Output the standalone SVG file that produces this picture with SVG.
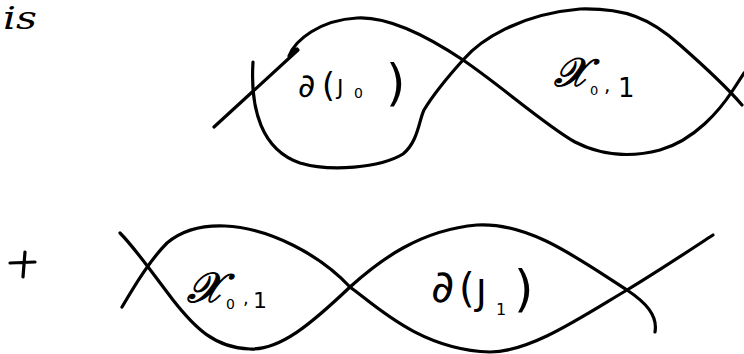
<svg xmlns="http://www.w3.org/2000/svg" width="744" height="354" viewBox="0 0 744 354">
<style>
.c{fill:none;stroke:#000;stroke-width:3.2;stroke-linecap:round;stroke-linejoin:round}
.t{font-family:"DejaVu Sans","Liberation Sans",sans-serif;font-style:normal;fill:#000}
.s{font-family:"DejaVu Serif","Liberation Serif",serif;font-style:italic;fill:#000}
.x{stroke:#000;stroke-width:1.2}
</style>
<rect width="744" height="354" fill="#fff"/>
<text class="s" x="3" y="29" font-size="32" textLength="34" lengthAdjust="spacingAndGlyphs">is</text>
<g id="curves">
<path class="c" d="M214,127 L298,50"/>
<path class="c" d="M253,62 C250,110 262,150 300,163 C330,172 380,168 403,154 C418,142 419,120 424,110 C430,100 445,80 463,60 C480,40 520,14 580,9 C625,8 650,18 680,45 C705,67 725,85 742,105"/>
<path class="c" d="M297,49 Q291,51 289,56 C295,40 320,20 357,18 C390,16 430,38 463,60 C500,85 545,125 575,142 C600,155 630,158 660,150 C695,140 720,110 733,90 L744,73"/>
<path class="c" d="M10,263 L35,262 M25,252 L23,277"/>
<path class="c" d="M120,233 C135,248 150,270 173,300 C195,328 215,348 250,349 C280,350 310,325 350,287 C380,260 420,230 477,225 C530,222 580,260 627,290 C645,302 658,315 655,332"/>
<path class="c" d="M122,307 C135,285 150,260 167,243 C180,232 200,225 225,226 C270,228 320,255 350,287 C375,305 420,350 490,352 C530,352 580,318 627,290 C660,270 690,250 713,235"/>
</g>
<g id="label-dJ0">
<text class="t" y="97"><tspan x="298" font-size="33">∂</tspan><tspan x="322" font-size="33">(</tspan><tspan x="337" font-size="22" y="95">J</tspan><tspan x="354" font-size="14" y="98">0</tspan><tspan x="386" font-size="50" y="100">)</tspan></text>
</g>
<g id="label-x01-top">
<text class="s" y="86"><tspan x="554" font-size="40" class="x">𝒳</tspan><tspan x="590" font-size="13" y="95" class="t">0</tspan><tspan x="604" font-size="20" y="92" class="t">,</tspan><tspan x="618" font-size="26" y="97" class="t">1</tspan></text>
</g>
<g id="label-x01-bottom">
<text class="s" y="302"><tspan x="187" font-size="42" class="x">𝒳</tspan><tspan x="226" font-size="14" y="309" class="t">0</tspan><tspan x="243" font-size="18" y="304" class="t">,</tspan><tspan x="253" font-size="22" y="308" class="t">1</tspan></text>
</g>
<g id="label-dJ1">
<text class="t" y="302"><tspan x="431" font-size="45">∂</tspan><tspan x="459" font-size="40">(</tspan><tspan x="476" font-size="36" y="305">J</tspan><tspan x="496" font-size="16" y="315">1</tspan><tspan x="514" font-size="50" y="306">)</tspan></text>
</g>
</svg>
